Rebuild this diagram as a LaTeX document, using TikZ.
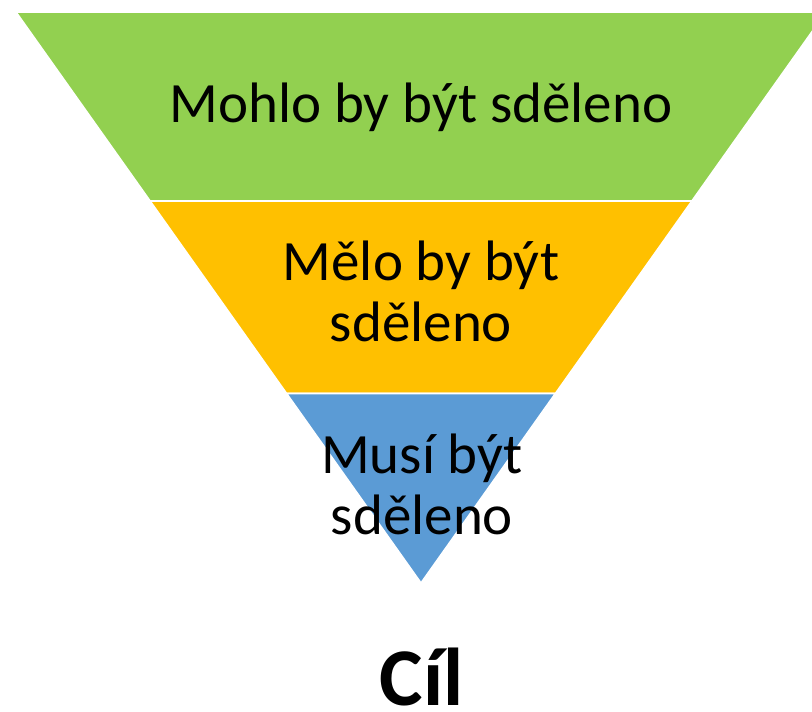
\documentclass[tikz,border=0pt]{standalone}
\usepackage{fontspec}
\setmainfont{Carlito}
\definecolor{gGreen}{HTML}{92D050}
\definecolor{gOrange}{HTML}{FFC000}
\definecolor{gBlue}{HTML}{5B9BD5}
\tikzset{
  band/.style={draw=white, line width=1.6pt, line join=miter},
  lbl/.style={align=center, inner sep=0pt, font=\fontsize{57}{61}\selectfont},
  goal/.style={inner sep=0pt, font=\fontsize{82}{90}\selectfont\bfseries}
}
\begin{document}
\begin{tikzpicture}[x=1pt,y=1pt]
\useasboundingbox (0,0) rectangle (812,712);
\begin{scope}
\clip (0,0) rectangle (812,712);
% y in pixels from top: Y = 712 - y
\fill[gGreen, band] (16,700) -- (826,700) -- (691.9,511) -- (150.1,511) -- cycle;
\fill[gOrange, band] (150.1,511) -- (691.9,511) -- (555.4,318.5) -- (286.6,318.5) -- cycle;
\fill[gBlue, band] (286.6,318.5) -- (555.4,318.5) -- (421,129) -- cycle;
\end{scope}
\node[lbl, anchor=base] (could) at (421,589) {Mohlo by být sděleno};
\node[lbl, anchor=base] (should) at (421,370) {Mělo by být\\sděleno};
\node[lbl, anchor=base] (must) at (422,177) {Musí být\\sděleno};
\node[goal, anchor=base] (goal) at (421.5,6) {Cíl};
\end{tikzpicture}
\end{document}
